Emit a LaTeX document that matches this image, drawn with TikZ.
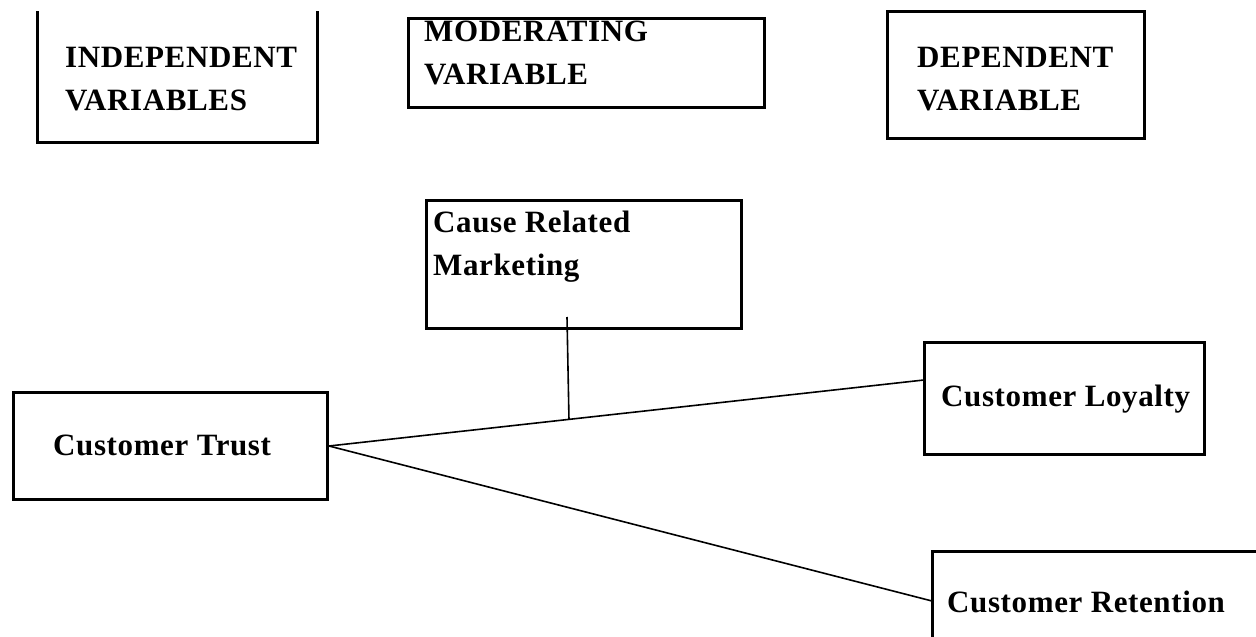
\documentclass[tikz,border=0pt]{standalone}
\usepackage{fontspec}
\setmainfont{Liberation Serif}[LetterSpace=2]
\usetikzlibrary{calc}
\begin{document}
\begin{tikzpicture}[x=1pt,y=-1pt,
  boxline/.style={line width=3pt, line cap=rect},
  conn/.style={line width=1.6pt},
  lbl/.style={font=\fontsize{31}{43}\selectfont\bfseries, align=left, anchor=base west, inner sep=0pt},
  boxnode/.style={draw, line width=3pt, rectangle, inner sep=0pt, anchor=north west}]
\useasboundingbox (0,0) rectangle (1256,637);
% header boxes
\draw[boxline] (37,12) -- (37,142) -- (317,142) -- (317,12);
\node[lbl] (indep) at (65,110) {INDEPENDENT\\VARIABLES};
\node[boxnode, minimum width=356pt, minimum height=89pt] (moderbox) at (407,17) {};
\node[lbl] (moder) at (424,84) {MODERATING\\VARIABLE};
\node[boxnode, minimum width=257pt, minimum height=127pt] (depbox) at (886,10) {};
\node[lbl] (dep) at (917,110) {DEPENDENT\\VARIABLE};
% model boxes
\node[boxnode, minimum width=315pt, minimum height=128pt] (crm) at (425,199) {};
\node[lbl] at (433,275) {Cause Related\\Marketing};
\node[boxnode, minimum width=314pt, minimum height=107pt] (trust) at (12,391) {};
\node[lbl] at (53,455) {Customer Trust};
\node[boxnode, minimum width=280pt, minimum height=112pt] (loyal) at (923,341) {};
\node[lbl] at (941,406) {Customer Loyalty};
\draw[boxline] (932,640) -- (932,551) -- (1260,551);
\node[lbl] (ret) at (947,612) {Customer Retention};
% connectors
\coordinate (tE) at (trust.east);
\coordinate (lW) at ($(loyal.north west)!0.34!(loyal.south west)$);
\coordinate (rW) at (932,601);
\draw[conn] (tE) -- (lW);
\draw[conn] (tE) -- (rW);
\coordinate (mid) at ($(tE)!0.404!(lW)$);
\coordinate (crmtop) at (567,317);
\draw[conn] (crmtop) -- (mid);
\end{tikzpicture}
\end{document}
